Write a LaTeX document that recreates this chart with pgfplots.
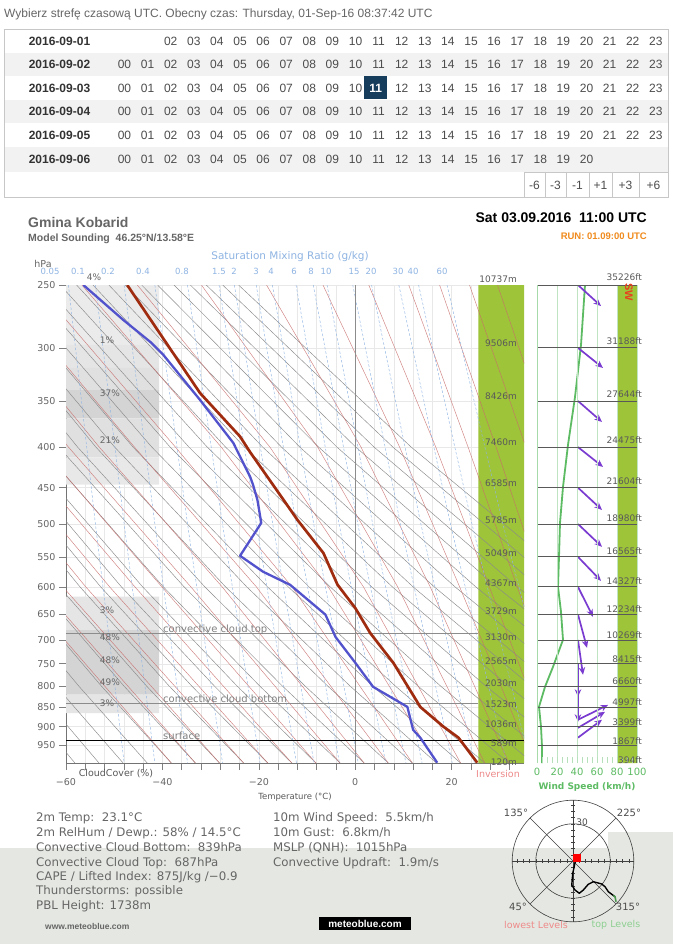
\documentclass[border=0pt]{standalone}
\usepackage{fontspec}
\setmainfont{Liberation Sans}
\newfontfamily\chartfont{DejaVu Sans}
\usepackage{pgfplots}
\pgfplotsset{compat=1.18}
\usetikzlibrary{arrows.meta}
\definecolor{hdrgray}{HTML}{666666}
\definecolor{rowgray}{HTML}{F2F2F2}
\definecolor{navy}{HTML}{173D5C}
\definecolor{tgreen}{HTML}{9EC43A}
\definecolor{tempred}{HTML}{A02C10}
\definecolor{dewblue}{HTML}{5252CC}
\definecolor{dryc}{HTML}{8A8A8A}
\definecolor{moistc}{HTML}{C86A6A}
\definecolor{mixc}{HTML}{8FB4E3}
\definecolor{windgreen}{HTML}{5DBB63}
\definecolor{arrowc}{HTML}{7A3CD0}
\definecolor{orangerun}{HTML}{F08A1C}
\definecolor{bottombg}{HTML}{E5E8E2}
\definecolor{swc}{HTML}{E8401C}
\definecolor{invc}{HTML}{EE8A8A}
\newcommand\cf[1]{\chartfont\fontsize{#1}{#1}\selectfont}
\newcommand\lf[1]{\fontsize{#1}{#1}\selectfont}
\newcommand\dry[5]{\addplot[dryc, line width=0.45pt] coordinates {(#1,250) (#2,400) (#3,600) (#4,800) (#5,1000)};}
\newcommand\moist[4]{\addplot[moistc, line width=0.45pt, opacity=0.85] coordinates {(#1,250) (#2,400) (#3,600) (#4,1000)};}
\newcommand\mix[3]{\addplot[mixc, line width=0.45pt, dash pattern=on 2.5pt off 2pt] coordinates {(#1,250) (#2,500) (#3,1000)};}
\newcommand\warr[4]{\addplot[arrowc, line width=1.7pt, -{Stealth[length=7.5pt,width=6.5pt]}] coordinates {(#1,#2) (#3,#4)};}
\newcommand\cbox[3]{\addplot[fill=black!#3, draw=none] coordinates {(-60,#1) (-40.66,#1) (-40.66,#2) (-60,#2) (-60,#1)};}
\newcommand\hrow[3]{\foreach \i in {#2,...,#3}{\node[inner sep=0, text=black!70, font=\lf{12}] at ({124.5+23.1*\i},#1) {\ifnum\i<10 0\fi\i};}}
\begin{document}
\begin{tikzpicture}
\begin{scope}[x=1pt,y=-1pt]
\path[fill=white] (0,0) rectangle (673,944);
\fill[bottombg] (0,848) rectangle (673,944);
\fill[bottombg] (608,832) rectangle (673,848);
% header
\node[anchor=west, text=hdrgray, font=\lf{12}, inner sep=0] at (4,14) {Wybierz strefę czasową UTC. Obecny czas: Thursday, 01-Sep-16 08:37:42 UTC};
% table
\fill[rowgray] (4,53) rectangle (668,76);
\fill[rowgray] (4,100) rectangle (668,123);
\fill[rowgray] (4,147) rectangle (668,172);
\draw[black!22] (4,29) rectangle (668,197);
\draw[black!22] (524,172) -- (668,172);
\foreach \xx in {524,545,566,589,612,639} \draw[black!22] (\xx,172) -- (\xx,197);
\foreach \xx/\tt in {534.5/-6,555.5/-3,577.5/-1,600.5/+1,625.5/+3,653.5/+6} \node[inner sep=0, text=black!70, font=\lf{12}] at (\xx,185) {\tt};
\foreach \yy/\dd in {41/01,64.5/02,88/03,111.5/04,135/05,159.5/06} \node[inner sep=0, text=black!80, font=\bfseries\lf{12}] at (59.5,\yy) {2016-09-\dd};
\hrow{41}{2}{23}
\hrow{64.5}{0}{23}
\hrow{88}{0}{10}
\hrow{88}{12}{23}
\hrow{111.5}{0}{23}
\hrow{135}{0}{23}
\hrow{159.5}{0}{20}
\fill[navy] (364,76.5) rectangle (387,99.5);
\node[inner sep=0, text=white, font=\bfseries\lf{12}] at (375.6,88) {11};
% titles
\node[anchor=west, font=\bfseries\lf{14}, text=black!60, inner sep=0] at (28,222) {Gmina Kobarid};
\node[anchor=west, font=\bfseries\lf{10.5}, text=black!60, inner sep=0] at (28,239) {Model Sounding\ \ 46.25°N/13.58°E};
\node[anchor=east, font=\bfseries\lf{14}, inner sep=0] at (647,218) {Sat 03.09.2016\ \ 11:00 UTC};
\node[anchor=east, font=\bfseries\lf{9.5}, text=orangerun, inner sep=0] at (647,236) {RUN: 01.09:00 UTC};
\end{scope}

% ---------------- main emagram ----------------
\begin{axis}[
 at={(66pt,-285pt)}, anchor=north west,
 scale only axis, width=458pt, height=478pt,
 xmin=-60, xmax=35, ymin=250, ymax=1000,
 ymode=log, y dir=reverse,
 axis x line*=bottom, axis y line*=left,
 axis line style={draw=black!55, line width=0.7pt},
 xtick={-60,-40,-20,0,20},
 xticklabels={\hbox{−60},\hbox{−40},\hbox{−20},\hbox{0},\hbox{20}},
 minor xtick={-56,-52,-48,-44,-36,-32,-28,-24,-16,-12,-8,-4,4,8,12,16,24,28,32},
 ytick={250,300,350,400,450,500,550,600,650,700,750,800,850,900,950},
 yticklabels={\hbox{250},\hbox{300},\hbox{350},\hbox{400},\hbox{450},\hbox{500},\hbox{550},\hbox{600},\hbox{650},\hbox{700},\hbox{750},\hbox{800},\hbox{850},\hbox{900},\hbox{950}},
 tick align=outside, major tick length=7pt, minor tick length=7pt,
 tick style={black!50, line width=0.6pt},
 xmajorgrids, xminorgrids, ymajorgrids,
 grid style={black!9, line width=0.5pt},
 ticklabel style={font=\cf{9.5}, text=black!60},
 xticklabel style={yshift=-5pt},
]
% cloud cover
\cbox{250}{297.5}{8}
\cbox{297.5}{318}{10}
\cbox{318}{339}{12}
\cbox{339}{368}{17}
\cbox{368}{412}{12}
\cbox{412}{446}{9}
\cbox{617}{680}{10}
\cbox{680}{820}{17}
\cbox{820}{865}{10}
% inversion strip
\addplot[fill=tgreen, draw=none] coordinates {(25.52,250) (35,250) (35,1000) (25.52,1000) (25.52,250)};
% dry adiabats
\dry{-128.5}{-107.7}{-87.3}{-71.4}{-58.15}
\dry{-125.1}{-103.8}{-83.0}{-66.7}{-53.15}
\dry{-121.7}{-100.0}{-78.7}{-62.05}{-48.15}
\dry{-118.4}{-96.1}{-74.4}{-57.35}{-43.15}
\dry{-115.0}{-92.3}{-70.1}{-52.66}{-38.15}
\dry{-111.6}{-88.4}{-65.7}{-47.97}{-33.15}
\dry{-108.3}{-84.6}{-61.4}{-43.28}{-28.15}
\dry{-104.9}{-80.7}{-57.1}{-38.59}{-23.15}
\dry{-101.5}{-76.9}{-52.8}{-33.9}{-18.15}
\dry{-98.2}{-73.0}{-48.5}{-29.2}{-13.15}
\dry{-94.8}{-69.2}{-44.1}{-24.5}{-8.15}
\dry{-91.5}{-65.3}{-39.8}{-19.8}{-3.15}
\dry{-88.1}{-61.5}{-35.5}{-15.1}{1.85}
\dry{-84.7}{-57.6}{-31.2}{-10.4}{6.85}
\dry{-81.4}{-53.8}{-26.9}{-5.7}{11.85}
\dry{-78.0}{-49.9}{-22.5}{-1.06}{16.85}
\dry{-74.6}{-46.1}{-18.2}{3.63}{21.85}
\dry{-71.3}{-42.2}{-13.9}{8.33}{26.85}
\dry{-67.9}{-38.4}{-9.6}{13.02}{31.85}
\dry{-64.5}{-34.5}{-5.2}{17.71}{36.85}
\dry{-61.2}{-30.7}{-0.9}{22.4}{41.85}
\dry{-57.8}{-26.9}{3.4}{27.09}{46.85}
\dry{-54.4}{-23.0}{7.7}{31.78}{51.85}
\dry{-51.1}{-19.2}{12.0}{36.47}{56.85}
\dry{-47.7}{-15.3}{16.4}{41.2}{61.85}
\dry{-44.3}{-11.5}{20.7}{45.86}{66.85}
\dry{-41.0}{-7.6}{25.0}{50.55}{71.85}
\dry{-37.6}{-3.8}{29.3}{55.24}{76.85}
\dry{-34.2}{0.1}{33.6}{59.93}{81.85}
\dry{-30.9}{3.9}{38.0}{64.62}{86.85}
\dry{-27.5}{7.8}{42.3}{69.3}{91.85}
\dry{-24.2}{11.6}{46.6}{74.0}{96.85}
% moist adiabats
\moist{-114.8}{-92.0}{-69.8}{-38.15}
\moist{-111.3}{-88.0}{-65.25}{-33.15}
\moist{-107.6}{-83.85}{-60.65}{-28.15}
\moist{-103.9}{-79.6}{-55.9}{-23.15}
\moist{-100.0}{-75.1}{-50.95}{-18.15}
\moist{-95.85}{-70.4}{-45.7}{-13.15}
\moist{-91.3}{-65.2}{-40.1}{-8.15}
\moist{-86.3}{-59.5}{-34.1}{-3.15}
\moist{-80.6}{-53.1}{-27.6}{1.85}
\moist{-74.0}{-45.8}{-20.5}{6.85}
\moist{-66.2}{-37.3}{-13.1}{11.85}
\moist{-56.7}{-27.8}{-5.6}{16.85}
\moist{-45.2}{-17.7}{1.7}{21.85}
\moist{-31.9}{-7.8}{8.8}{26.85}
\moist{-18.4}{1.2}{15.55}{31.85}
\moist{-6.7}{9.2}{21.65}{36.85}
\moist{2.8}{16.7}{27.8}{41.85}
\moist{11.1}{23.4}{33.6}{46.85}
\addplot[moistc, line width=0.45pt, opacity=0.85] coordinates {(17.5,250) (29.2,400) (38.9,600)};
\addplot[moistc, line width=0.45pt, opacity=0.85] coordinates {(23.7,250) (35.4,400)};
\addplot[moistc, line width=0.45pt, opacity=0.85] coordinates {(29.5,250) (41,400)};
% mixing ratio lines
\mix{-59.5}{-53.9}{-47.94}
\mix{-53.9}{-47.94}{-41.57}
\mix{-47.94}{-41.57}{-34.79}
\mix{-41.57}{-34.79}{-27.53}
\mix{-34.8}{-27.54}{-19.75}
\mix{-28.25}{-20.51}{-12.20}
\mix{-25.08}{-17.12}{-8.55}
\mix{-20.55}{-12.24}{-3.28}
\mix{-17.19}{-8.62}{0.61}
\mix{-12.29}{-3.35}{6.32}
\mix{-8.71}{0.53}{10.51}
\mix{-5.85}{3.61}{13.85}
\mix{-0.52}{9.38}{20.12}
\mix{3.39}{13.61}{24.72}
\mix{9.04}{19.75}{31.41}
\mix{13.14}{24.21}{36.28}
\mix{19.03}{30.62}{43.28}
% zero isotherm
\addplot[black!45, line width=0.6pt] coordinates {(0,250) (0,1000)};
% convective levels and surface
\addplot[black!45, line width=1.1pt] coordinates {(-60,687) (25.52,687)};
\addplot[black!45, line width=1.1pt] coordinates {(-60,842) (25.52,842)};
\addplot[black, line width=1.3pt] coordinates {(-60,937.5) (35,937.5)};
% dew point
\addplot[dewblue, line width=2.3pt, line join=round] coordinates {
(-56.4,250) (-48.1,276.7) (-42.5,294.9) (-39.8,306.2) (-32.2,348.9) (-25.3,395.2)
(-21.8,436.1) (-21.2,446.3) (-20.3,466.2) (-19.5,498.4) (-23.9,548.3) (-19.1,574.3)
(-13.5,596.5) (-6.2,650.2) (-4.1,693.7) (0,747.7) (3.7,801.7) (10.8,849.6)
(12.0,908.2) (13.5,929.4) (17.0,999)};
% temperature
\addplot[tempred, line width=2.7pt, line join=round] coordinates {
(-47.3,250) (-32.2,342) (-23.9,388) (-21.8,406) (-14.9,466) (-12.0,494) (-6.6,544)
(-3.7,596) (0,638) (3.1,686) (7.9,748) (13.5,850) (18.3,900) (21.4,929) (25.3,999)};
\end{axis}

% ---------------- wind panel ----------------
\begin{axis}[
 at={(537pt,-285pt)}, anchor=north west,
 scale only axis, width=100pt, height=478pt,
 xmin=0, xmax=100, ymin=250, ymax=1000,
 ymode=log, y dir=reverse,
 axis on top,
 axis x line*=bottom, axis y line*=left,
 x axis line style={draw=none},
 y axis line style={draw=windgreen!55, line width=0.8pt},
 xtick={0,20,40,60,80,100},
 xticklabels={\hbox{0},\hbox{20},\hbox{40},\hbox{60},\hbox{80},\hbox{100}},
 minor x tick num=3,
 tick align=inside, major tick length=6pt, minor tick length=6pt,
 xtick style={windgreen!45, line width=0.5pt},
 ytick={250,300,350,400,450,500,550,600,650,700,750,800,850,900,950},
 yticklabels={}, ytick style={draw=none},
 xmajorgrids, ymajorgrids,
 x grid style={windgreen!40, line width=0.6pt},
 y grid style={black!65, line width=0.8pt},
 xticklabel style={font=\cf{10}, text=windgreen, yshift=-2pt},
]
\addplot[fill=tgreen, draw=none] coordinates {(80,250) (100,250) (100,1000) (80,1000) (80,250)};
\addplot[windgreen, line width=1.8pt, line join=round] coordinates {
(48,250) (44,297.5) (38,345.9) (31,397.5) (26,449) (23,498.4) (22,550) (21,600)
(24,644.9) (26,699.5) (16,756.6) (8,801.7) (2,849.6) (4,900.2) (5,954) (5,1000)};
\warr{41}{250}{64}{265.7}
\warr{41}{300}{66}{318}
\warr{41}{350}{65}{371.9}
\warr{41}{400}{66}{423.7}
\warr{41}{450}{65}{480}
\warr{41}{500}{65}{534.2}
\warr{41}{550}{64}{589.6}
\warr{41}{600}{56}{654.4}
\warr{41}{650}{50}{716}
\warr{41}{700}{46}{774.3}
\warr{41}{750}{41}{825.3}
\warr{41}{800}{41}{887.3}
\warr{41}{882}{71}{845}
\warr{41}{903}{68}{862}
\warr{41}{929}{65}{882}
\end{axis}

% ---------------- hodograph ----------------
\begin{axis}[
 at={(573pt,-861pt)}, anchor=center,
 scale only axis, width=141.36pt, height=141.36pt,
 xmin=-57, xmax=57, ymin=-57, ymax=57,
 hide axis, clip=false,
]
\draw[black!75, line width=0.6pt] (axis cs:0,0) circle[radius=60.8pt];
\draw[black!75, line width=0.6pt] (axis cs:0,0) circle[radius=37.2pt];
\draw[black!75, line width=0.6pt] (axis cs:-49,0) -- (axis cs:49,0);
\draw[black!75, line width=0.6pt] (axis cs:0,-49) -- (axis cs:0,49);
\draw[black!75, line width=0.5pt] (axis cs:-34.65,34.65) -- (axis cs:34.65,-34.65);
\draw[black!75, line width=0.5pt] (axis cs:34.65,34.65) -- (axis cs:-34.65,-34.65);
\pgfplotsinvokeforeach{-45,-40,-35,-30,-25,-20,-15,-10,-5,5,10,15,20,25,30,35,40,45}{
 \draw[black!75, line width=0.5pt] (axis cs:#1,-1.6) -- (axis cs:#1,1.6);
 \draw[black!75, line width=0.5pt] (axis cs:-1.6,#1) -- (axis cs:1.6,#1);
}
\addplot[black, line width=1.4pt, line join=round] coordinates {
(3.2,2.4) (1.6,-1.6) (-0.2,-9.9) (-1.0,-19.4) (1.6,-23.4) (5.1,-26.0) (8.3,-23.4)
(12.3,-18.8) (16.4,-16.7) (23.1,-18.5) (25.8,-20.7) (28.5,-24.8) (33.9,-28.8)};
\addplot[windgreen!80!black, line width=1.6pt] coordinates {(32.6,-27.8) (33.9,-28.8) (34.7,-32.8)};
\addplot[only marks, mark=square*, mark size=3.5pt, red] coordinates {(3.2,2.4)};
\end{axis}

\begin{scope}[x=1pt,y=-1pt]
% emagram annotations
\node[font=\cf{10.5}, text=mixc, inner sep=0] at (290,257) {Saturation Mixing Ratio (g/kg)};
\node[font=\cf{9.5}, text=black!60, inner sep=0] at (43,264) {hPa};
\foreach \xx/\ll in {50/0.05,78/0.1,108/0.2,143/0.4,182/0.8,219/1.5,234/2,256/3,271/4,294/6,311/8,326/10,354/15,371/20,398/30,413/40,442/60}
 \node[font=\cf{8.5}, text=mixc, inner sep=0] at (\xx,271.5) {\ll};
\foreach \xx/\yy/\ll in {94/277/4,107/340/1,110/393/37,110/440/21,107/610/3,110/637/48,110/660/48,110/682/49,107/703/3}
 \node[font=\cf{9}, text=black!60, inner sep=0] at (\xx,\yy) {\ll\%};
\foreach \yy/\ll in {279/10737m,343/9506m,396/8426m,442/7460m,483/6585m,520/5785m,553/5049m,583/4367m,611/3729m,637/3130m,661/2565m,683/2030m,704/1523m,724/1036m,743/589m,762/120m}
 \node[anchor=east, font=\cf{9}, text=black!65, inner sep=0] at (517,\yy) {\ll};
\foreach \yy/\ll in {277/35226ft,341/31188ft,394/27644ft,440/24475ft,481/21604ft,518/18980ft,551/16565ft,581/14327ft,609/12234ft,635/10269ft,659/8415ft,681/6660ft,702/4997ft,722/3399ft,741/1867ft,760/394ft}
 \node[anchor=east, font=\cf{9}, text=black!65, inner sep=0] at (642,\yy) {\ll};
\node[anchor=base west, font=\cf{10}, text=black!50, inner sep=0] at (163,632) {convective cloud top};
\node[anchor=base west, font=\cf{10}, text=black!50, inner sep=0] at (163,702) {convective cloud bottom};
\node[anchor=base west, font=\cf{10}, text=black!50, inner sep=0] at (163,739.5) {surface};
\node[font=\cf{9.5}, text=black!65, inner sep=0] at (116,774) {CloudCover (\%)};
\node[font=\cf{8.5}, text=black!65, inner sep=0] at (295,797) {Temperature (°C)};
\node[font=\cf{9.5}, text=invc, inner sep=0] at (498,774) {Inversion};
\node[font=\bfseries\cf{9}, text=windgreen, inner sep=0] at (587,787) {Wind Speed (km/h)};
\node[rotate=-90, font=\bfseries\lf{11}, text=swc, inner sep=0] at (629,292) {SW};
% hodograph labels
\node[font=\cf{10}, text=black!70, inner sep=0] at (516,813) {135°};
\node[font=\cf{10}, text=black!70, inner sep=0] at (629,813) {225°};
\node[font=\cf{10}, text=black!70, inner sep=0] at (518,907) {45°};
\node[font=\cf{10}, text=black!70, inner sep=0] at (628,907) {315°};
\node[font=\cf{9}, text=black!70, inner sep=0] at (582,822) {30};
\node[font=\cf{9.5}, text=invc, inner sep=0] at (536,925) {lowest Levels};
\node[font=\cf{9.5}, text=windgreen!70, inner sep=0] at (616,925) {top Levels};
% text block
\foreach \yy/\ll in {821/{2m Temp:\ \ 23.1°C},836/{2m RelHum / Dewp.: 58\% / 14.5°C},851/{Convective Cloud Bottom:\ \ 839hPa},866/{Convective Cloud Top:\ \ 687hPa},880/{CAPE / Lifted Index: 875J/kg /−0.9},894/{Thunderstorms: possible},909/{PBL Height: 1738m}}
 \node[anchor=base west, font=\cf{11.8}, text=black!60, inner sep=0] at (36,\yy) {\ll};
\foreach \yy/\ll in {821/{10m Wind Speed:\ \ 5.5km/h},836/{10m Gust:\ \ 6.8km/h},851/{MSLP (QNH):\ \ 1015hPa},866/{Convective Updraft:\ \ 1.9m/s}}
 \node[anchor=base west, font=\cf{11.8}, text=black!60, inner sep=0] at (273,\yy) {\ll};
\node[anchor=west, font=\bfseries\lf{8.5}, text=black!60, inner sep=0] at (45,926) {www.meteoblue.com};
\fill[black] (319,917) rectangle (411,930);
\node[font=\bfseries\lf{10}, text=white, inner sep=0] at (365,923.5) {meteoblue.com};
\end{scope}
\pgfresetboundingbox
\path[x=1pt,y=-1pt] (0,0) rectangle (673,944);
\end{tikzpicture}
\end{document}
